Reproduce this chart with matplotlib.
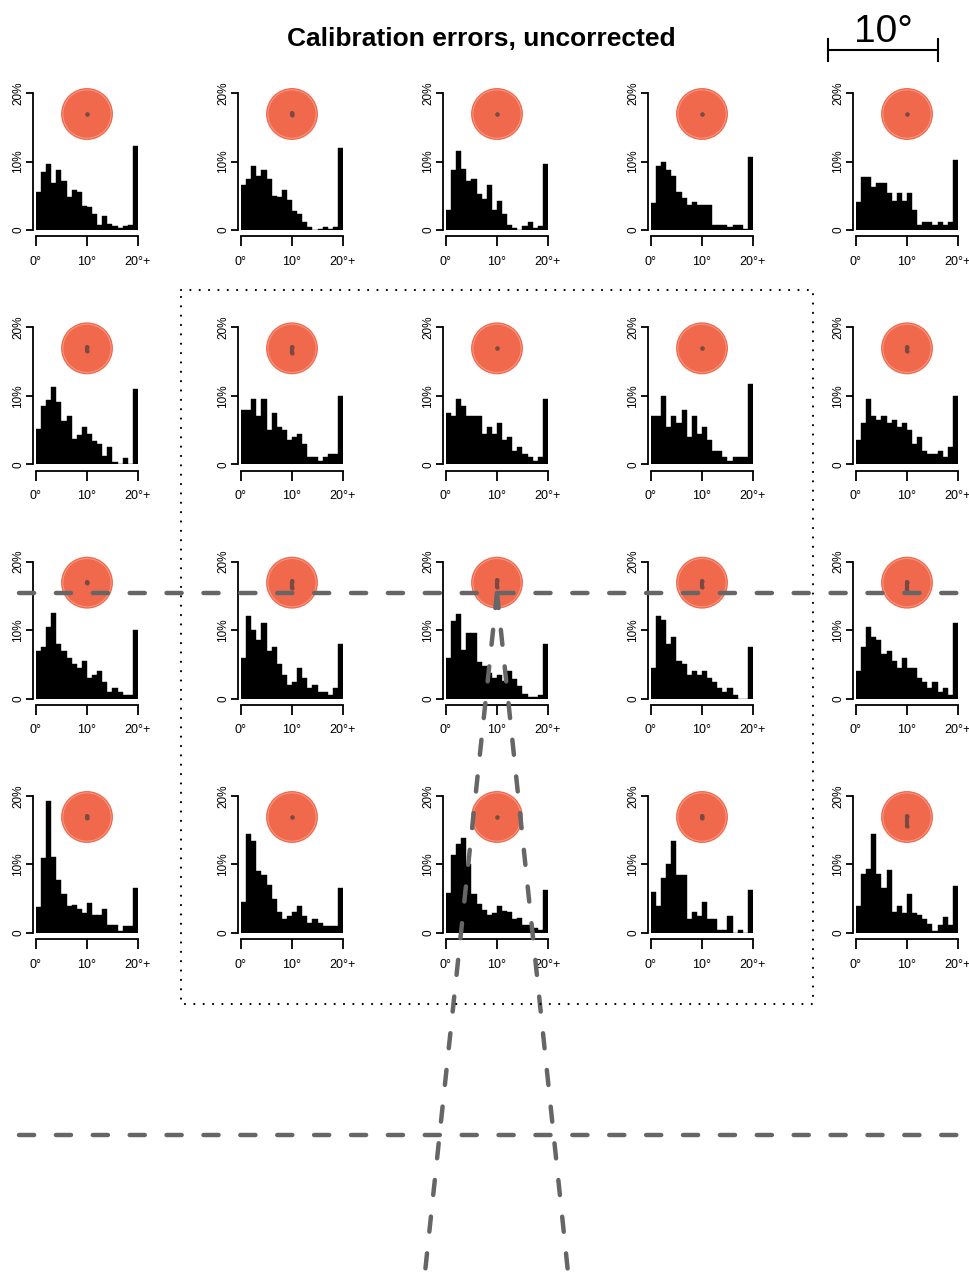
import numpy as np
import matplotlib.pyplot as plt
from matplotlib.patches import Circle

plt.rcParams['font.family'] = ['Liberation Sans', 'DejaVu Sans']

# ==============================
# DATA
# ==============================
# percent of trials per 1 degree error bin, last bin is 20+
bins = np.arange(20)
bin_labels = ['0°', '10°', '20°+']
pct_labels = ['0', '10%', '20%']

row1 = [
    [5.6, 8.4, 9.6, 6.8, 8.7, 7.1, 4.8, 5.9, 5.6, 3.5, 3.4, 2.3, 0.8, 2.0, 0.9, 0.6, 0.3, 0.6, 0.8, 12.3],
    [6.5, 7.4, 9.3, 7.9, 8.7, 7.4, 5.0, 4.8, 5.9, 4.4, 2.8, 2.3, 1.2, 0.5, 0.0, 0.1, 0.5, 0.2, 0.5, 12.0],
    [2.9, 8.7, 11.6, 8.9, 7.1, 7.4, 5.3, 4.5, 6.5, 2.9, 4.2, 2.3, 0.8, 0.25, 0.0, 0.6, 1.1, 0.35, 0.6, 9.6],
    [3.9, 9.3, 9.9, 8.7, 7.9, 5.6, 4.7, 3.7, 4.1, 3.7, 3.7, 3.7, 0.7, 0.7, 0.7, 0.45, 0.7, 0.7, 0.1, 10.7],
    [4.1, 7.8, 7.8, 6.3, 6.9, 6.9, 5.4, 4.2, 5.4, 4.2, 5.4, 2.9, 0.8, 1.1, 1.1, 0.8, 1.1, 0.8, 1.1, 10.2],
]
row2 = [
    [5.1, 8.5, 9.4, 11.3, 9.1, 6.3, 7.1, 3.7, 4.3, 5.4, 4.5, 3.4, 2.9, 1.2, 2.5, 0.3, 0.0, 0.9, 0.0, 11.0],
    [8.0, 8.0, 9.5, 7.0, 9.6, 5.0, 7.5, 5.5, 5.0, 3.5, 4.0, 4.5, 3.0, 1.0, 1.0, 0.5, 1.0, 1.5, 1.5, 10.0],
    [7.5, 7.0, 9.5, 8.5, 7.0, 7.0, 7.0, 4.5, 5.5, 4.5, 6.0, 3.5, 4.0, 2.0, 2.5, 1.5, 1.0, 0.5, 1.0, 9.5],
    [7.0, 7.0, 10.0, 5.5, 7.0, 6.0, 8.0, 4.0, 7.0, 4.5, 5.5, 3.5, 2.0, 2.0, 1.0, 0.5, 1.0, 1.0, 1.0, 11.7],
    [3.5, 6.0, 9.5, 7.0, 6.5, 7.0, 6.0, 6.5, 5.5, 6.0, 5.0, 3.0, 4.0, 2.0, 1.5, 1.5, 2.0, 1.0, 2.5, 10.0],
]
row3 = [
    [7.0, 7.5, 10.5, 12.5, 8.0, 7.0, 6.0, 5.0, 4.5, 5.5, 3.0, 3.5, 4.0, 2.5, 1.0, 1.5, 1.0, 0.5, 0.5, 10.0],
    [6.0, 12.0, 10.0, 8.5, 11.0, 7.0, 7.5, 5.0, 3.5, 2.0, 2.5, 4.5, 3.0, 1.5, 2.0, 1.0, 1.0, 0.5, 1.5, 8.0],
    [5.9, 11.4, 12.3, 7.1, 9.6, 9.6, 5.3, 4.8, 3.8, 3.0, 3.4, 2.6, 4.0, 2.9, 1.8, 0.7, 0.25, 0.25, 0.5, 8.0],
    [4.5, 12.0, 11.5, 8.0, 9.0, 5.5, 5.0, 3.5, 4.0, 3.5, 4.0, 3.0, 2.5, 1.5, 1.0, 1.5, 0.5, 0.0, 0.0, 7.5],
    [4.0, 7.5, 10.5, 9.0, 8.5, 6.5, 7.0, 5.5, 4.5, 6.0, 4.5, 4.5, 3.0, 2.5, 1.5, 2.5, 1.0, 1.5, 0.5, 11.0],
]
row4 = [
    [3.8, 10.9, 19.2, 11.1, 7.8, 5.7, 4.0, 4.1, 3.5, 2.9, 4.4, 2.6, 2.6, 3.5, 1.1, 1.1, 0.25, 1.0, 1.0, 6.6],
    [4.5, 14.5, 13.5, 9.0, 8.5, 7.0, 5.0, 3.0, 2.0, 2.5, 3.0, 4.0, 2.5, 1.5, 2.0, 1.5, 1.0, 1.0, 1.0, 6.5],
    [5.9, 11.4, 13.0, 13.9, 10.0, 5.7, 4.3, 3.4, 2.6, 2.9, 4.0, 3.2, 3.1, 2.0, 2.2, 1.1, 1.1, 0.7, 0.4, 6.3],
    [6.0, 4.0, 8.0, 10.0, 13.5, 8.5, 8.5, 2.0, 3.0, 2.5, 4.5, 2.0, 2.0, 0.5, 0.5, 2.5, 0.0, 0.5, 0.0, 6.3],
    [4.0, 8.6, 9.4, 14.5, 8.6, 6.6, 9.2, 3.1, 4.0, 2.9, 5.7, 2.9, 2.6, 2.0, 1.3, 0.25, 1.1, 2.3, 1.1, 6.9],
]
rows = [row1, row2, row3, row4]

# mean error mark inside each target, vertical extent in degrees (top, bottom)
mark_top = [
    [0.0, 0.05, 0.0, 0.0, 0.0],
    [0.1, 0.15, 0.0, 0.0, 0.1],
    [0.05, 0.15, 0.25, 0.15, 0.1],
    [0.1, 0.0, 0.0, 0.1, 0.1],
]
mark_bottom = [
    [0.0, -0.1, 0.0, 0.0, 0.0],
    [-0.25, -0.4, 0.0, 0.0, -0.2],
    [-0.05, -0.45, -0.35, -0.35, -0.8],
    [-0.1, 0.0, 0.0, -0.1, -0.8],
]
target_radius = 2.36  # degrees
scale_deg = 10

# ==============================
# FIGURE / LAYOUT (pixels)
# ==============================
W, H = 970, 1282
fig = plt.figure(figsize=(W / 100, H / 100), dpi=100)


def px_axes(left, top, w, h):
    return fig.add_axes([left / W, 1 - (top + h) / H, w / W, h / H])


px_per_deg = 11
red = '#F1694D'

for r, row in enumerate(rows):
    for c, vals in enumerate(row):
        left = 36 + 205 * c
        top = 93 + 234.33 * r
        ax = px_axes(left, top, 102, 137)
        ax.bar(bins, vals, width=1, align='edge', color='black',
               edgecolor='black', linewidth=0.3)
        ax.set_xlim(0, 20)
        ax.set_ylim(0, 20)
        ax.patch.set_visible(False)
        for s in ['top', 'right']:
            ax.spines[s].set_visible(False)
        ax.spines['left'].set_position(('outward', 2.5))
        ax.spines['bottom'].set_position(('outward', 4.5))
        ax.spines['left'].set_bounds(0, 20)
        ax.spines['bottom'].set_bounds(0, 20)
        for s in ['left', 'bottom']:
            ax.spines[s].set_linewidth(1.3)
        ax.set_xticks([0, 10, 20], bin_labels)
        ax.set_yticks([0, 10, 20], pct_labels, rotation=90, va='center')
        ax.tick_params(axis='y', length=5, width=1.3, pad=1, labelsize=8.5)
        ax.tick_params(axis='x', length=7.5, width=1.3, pad=6.5, labelsize=9)

        # target circle with mean error mark
        cx = left + 51
        cy = 114 + 234.33 * r
        tax = px_axes(cx - 32, cy - 32, 64, 64)
        tax.set_xlim(-32 / px_per_deg, 32 / px_per_deg)
        tax.set_ylim(-32 / px_per_deg, 32 / px_per_deg)
        tax.axis('off')
        tax.add_patch(Circle((0, 0), target_radius, fc=red, ec='none'))
        tax.add_patch(Circle((0, 0), target_radius * 0.93, fill=False,
                             ec='#F59A84', lw=0.7))
        tax.plot([0, 0], [mark_top[r][c], mark_bottom[r][c]], color='#7A4A42',
                 lw=3, solid_capstyle='round', marker='o', ms=3, mew=0)

# ==============================
# OVERLAY: horizon, road, dotted frame, title, scale bar
# ==============================
ov = px_axes(0, 0, W, H)
ov.set_xlim(0, W)
ov.set_ylim(H, 0)
ov.axis('off')

gray = '#666666'
dash = (0, (3.4, 4.9))
horizon_y = [593, 1135]
for y in horizon_y:
    ov.plot([19, W], [y, y], color=gray, lw=3.2, ls=dash, dash_capstyle='round')

vanish = (497, 593)
road_bottom_x = [424, 569]
for xb in road_bottom_x:
    ov.plot([vanish[0], xb], [vanish[1], H], color=gray, lw=3.2, ls=dash,
            dash_capstyle='round')

ov.plot([181, 813, 813, 181, 181], [290, 290, 1004, 1004, 290], color='black',
        lw=1.6, ls=(0, (0.01, 4.2)), dash_capstyle='round')

ov.text(481, 39, 'Calibration errors, uncorrected', ha='center', va='center',
        fontsize=19, fontweight='bold')

bar_x0 = 828
bar_x1 = bar_x0 + scale_deg * px_per_deg
ov.plot([bar_x0, bar_x1], [50, 50], color='black', lw=1.5)
ov.plot([bar_x0, bar_x0], [39, 61], color='black', lw=1.5)
ov.plot([bar_x1, bar_x1], [39, 61], color='black', lw=1.5)
ov.text((bar_x0 + bar_x1) / 2, 42, f'{scale_deg}°', ha='center', va='baseline',
        fontsize=28)

fig.savefig('out.png', dpi=100)
